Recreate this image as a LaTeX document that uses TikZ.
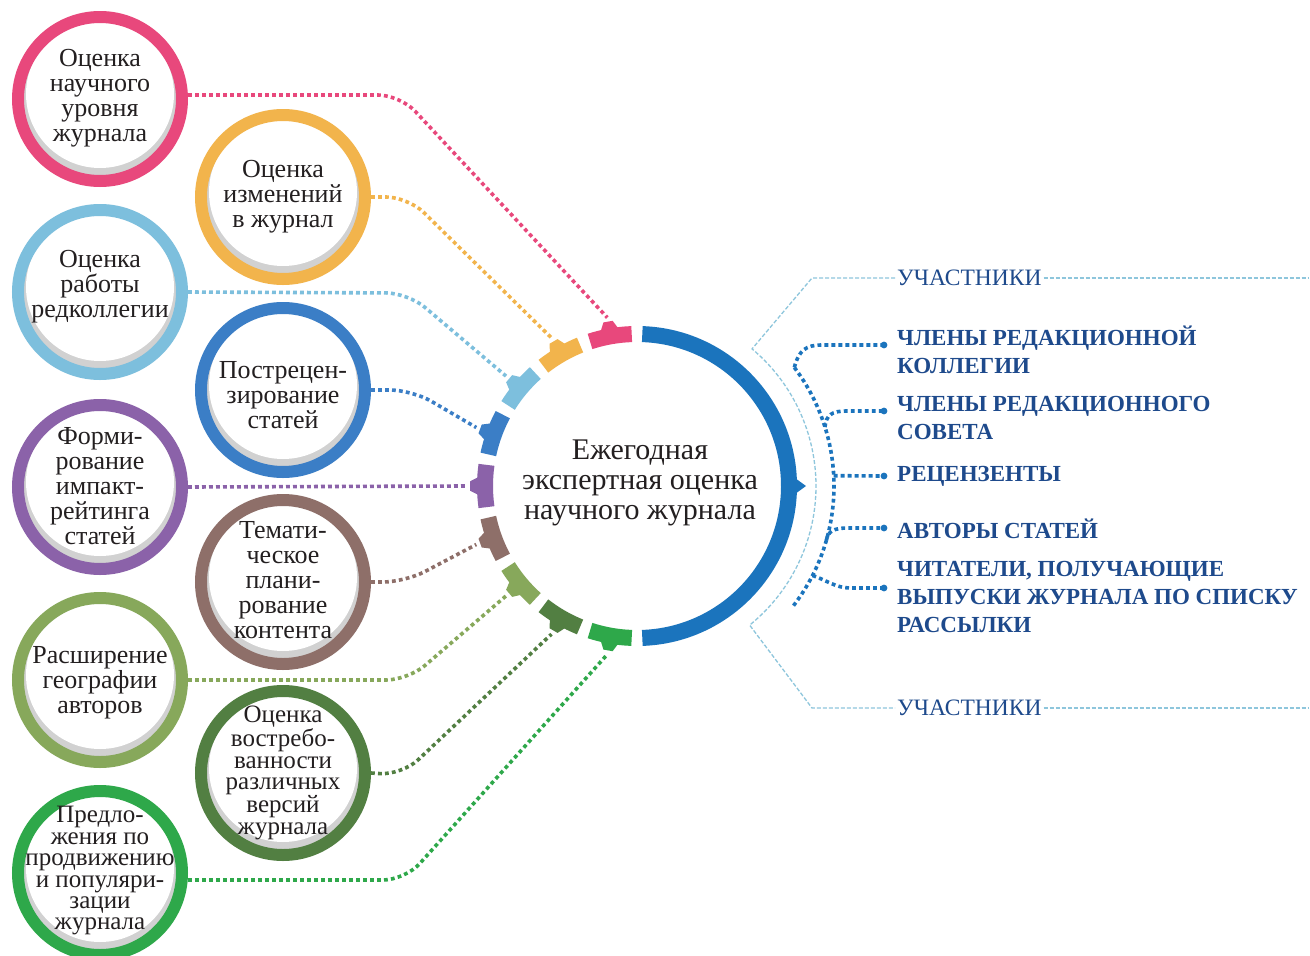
\documentclass[tikz,border=0pt]{standalone}
\usepackage{fontspec}
\setmainfont{Liberation Serif}
\usetikzlibrary{calc}
\definecolor{cpink}{HTML}{E8487C}
\definecolor{corange}{HTML}{F2B44C}
\definecolor{clblue}{HTML}{7DBFDD}
\definecolor{cblue}{HTML}{3B7EC6}
\definecolor{cpurple}{HTML}{8B62A9}
\definecolor{cbrown}{HTML}{8E6F69}
\definecolor{colive}{HTML}{87A85B}
\definecolor{cdgreen}{HTML}{527F42}
\definecolor{cgreen}{HTML}{2EA84A}
\definecolor{cmain}{HTML}{1B74BD}
\definecolor{cnavy}{HTML}{1E4A8C}
\definecolor{cdash}{HTML}{8EC6DC}
\definecolor{ctext}{HTML}{231F20}
\begin{document}
\begin{tikzpicture}[x=1pt,y=1pt,
  ring/.style={circle, draw=#1, line width=12pt, minimum size=164pt, inner sep=0pt, fill=white,
    path picture={\fill[black,opacity=0.18] (path picture bounding box.center) circle[radius=80pt];
                  \fill[white] ([yshift=5pt]path picture bounding box.center) circle[radius=74pt];}},
  txt/.style={align=center, text=ctext, inner sep=0pt, font=\fontsize{26}{25}\selectfont},
  txtsix/.style={align=center, text=ctext, inner sep=0pt, font=\fontsize{25}{21.4}\selectfont},
  dots/.style={draw=#1, line width=3.6pt, line cap=butt, dash pattern=on 3.8pt off 3.2pt, rounded corners=22pt},
  tdots/.style={draw=cmain, line width=3.6pt, line cap=butt, dash pattern=on 3.8pt off 3.2pt},
  bracket/.style={draw=cdash, line width=1.3pt, dash pattern=on 4pt off 2pt},
  rtxt/.style={anchor=west, align=left, text=cnavy, inner sep=0pt, font=\fontsize{23}{28}\selectfont\bfseries},
  utxt/.style={text=cnavy, inner sep=2pt, font=\fontsize{23.5}{24}\selectfont}
]
\useasboundingbox (0,0) rectangle (1310,-956);
\fill[white] (0,0) rectangle (1310,-956);

\coordinate (ctr) at (637,-486);

% left circles
\node[ring=cpink]   (c1) at (100,-99) {};
\node[ring=corange] (c2) at (283,-197) {};
\node[ring=clblue]  (c3) at (100,-292) {};
\node[ring=cblue]   (c4) at (283,-390) {};
\node[ring=cpurple] (c5) at (100,-487) {};
\node[ring=cbrown]  (c6) at (283,-582) {};
\node[ring=colive]  (c7) at (100,-680) {};
\node[ring=cdgreen] (c8) at (283,-773) {};
\node[ring=cgreen]  (c9) at (100,-873) {};

\node[txt] (t1) at (100,-98) {Оценка\\научного\\уровня\\журнала};
\node[txt] (t2) at (283,-197) {Оценка\\изменений\\в журнал};
\node[txt] (t3) at (100,-287) {Оценка\\работы\\редколлегии};
\node[txt] (t4) at (283,-395) {Пострецен-\\зирование\\статей};
\node[txt] (t5) at (100,-486) {Форми-\\рование\\импакт-\\рейтинга\\статей};
\node[txt] (t6) at (283,-580) {Темати-\\ческое\\плани-\\рование\\контента};
\node[txt] (t7) at (100,-683) {Расширение\\географии\\авторов};
\node[txtsix] (t8) at (283,-773) {Оценка\\востребо-\\ванности\\различных\\версий\\журнала};
\node[txtsix] (t9) at (100,-871) {Предло-\\жения по\\продвижению\\и популяри-\\зации\\журнала};

% central ring
\draw[cmain, line width=16pt] ($(ctr)+(88:152)$) arc[start angle=88, end angle=-88, radius=152pt];
\fill[cmain] ($(ctr)+(158,8)$) -- ($(ctr)+(169,0)$) -- ($(ctr)+(158,-8)$) -- cycle;

\foreach \ang/\col [count=\i] in {100/cpink,120/corange,140/clblue,160/cblue,180/cpurple,200/cbrown,220/colive,240/cdgreen,260/cgreen} {
  \draw[\col, line width=16pt] ($(ctr)+(\ang+8:152)$) arc[start angle=\ang+8, end angle=\ang-8, radius=152pt];
  \fill[\col] ($(ctr)+(\ang-3.4:158)$) -- ($(ctr)+(\ang-1.6:167)$) -- ($(ctr)+(\ang+1.6:167)$) -- ($(ctr)+(\ang+3.4:158)$) -- cycle;
  \coordinate (k\i) at ($(ctr)+(\ang:171)$);
}

\node[align=center, text=ctext, inner sep=0pt, font=\fontsize{30}{30}\selectfont] (center) at (640,-483)
  {Ежегодная\\экспертная оценка\\научного журнала};

% connectors
\draw[dots=cpink]   ([yshift=4pt]c1.east) -- (400,-95) -- (k1);
\draw[dots=corange] (c2.east) -- (408,-197) -- (k2);
\draw[dots=clblue]  (c3.east) -- (408,-293) -- (k3);
\draw[dots=cblue]   (c4.east) -- (412,-390) -- (k4);
\draw[dots=cpurple] (c5.east) -- (k5);
\draw[dots=cbrown]  (c6.east) -- (405,-582) -- (k6);
\draw[dots=colive]  (c7.east) -- (408,-680) -- (k7);
\draw[dots=cdgreen] (c8.east) -- (402,-775) -- (k8);
\draw[dots=cgreen]  ([yshift=-7pt]c9.east) -- (405,-880) -- (k9);

% right side bracket
\node[utxt, anchor=west] (u1) at (895,-278) {УЧАСТНИКИ};
\node[utxt, anchor=west] (u2) at (895,-708) {УЧАСТНИКИ};
\coordinate (e1) at (1308,-278);
\coordinate (e2) at (1308,-708);
\draw[bracket] (u1.west) -- (812,-278) -- ($(ctr)+(50:179)$) arc[start angle=50, end angle=-51, radius=179pt] -- (812,-708) -- (u2.west);
\draw[bracket] (u1.east) -- (e1);
\draw[bracket] (u2.east) -- (e2);

% right texts
\node[rtxt] (r1) at (897,-350) {ЧЛЕНЫ РЕДАКЦИОННОЙ\\КОЛЛЕГИИ};
\node[rtxt] (r2) at (897,-418) {ЧЛЕНЫ РЕДАКЦИОННОГО\\СОВЕТА};
\node[rtxt] (r3) at (897,-476) {РЕЦЕНЗЕНТЫ};
\node[rtxt] (r4) at (897,-529) {АВТОРЫ СТАТЕЙ};
\node[rtxt] (r5) at (897,-597) {ЧИТАТЕЛИ, ПОЛУЧАЮЩИЕ\\ВЫПУСКИ ЖУРНАЛА ПО СПИСКУ\\РАССЫЛКИ};

\coordinate (d1) at (884,-345);
\coordinate (d2) at (884,-411);
\coordinate (d3) at (884,-476);
\coordinate (d4) at (884,-528);
\coordinate (d5) at (884,-588);

% dotted tree
\draw[tdots] ($(ctr)+(37:197)$) arc[start angle=37, end angle=-38, radius=197pt];
\draw[tdots] ($(ctr)+(37:197)$) .. controls (799,-350) and (806,-345) .. (822,-345) -- (d1);
\draw[tdots] ($(ctr)+(17.4:197)$) .. controls (826,-415) and (832,-411) .. (846,-411) -- (d2);
\draw[tdots] ($(ctr)+(3:197)$) -- (d3);
\draw[tdots] ($(ctr)+(-16:197)$) .. controls (828,-531) and (834,-528) .. (848,-528) -- (d4);
\draw[tdots] ($(ctr)+(-27:197)$) .. controls (826,-580) and (836,-588) .. (850,-588) -- (d5);
\foreach \k in {1,...,5} { \fill[cmain] (d\k) circle[radius=3.4pt]; }
\end{tikzpicture}
\end{document}
